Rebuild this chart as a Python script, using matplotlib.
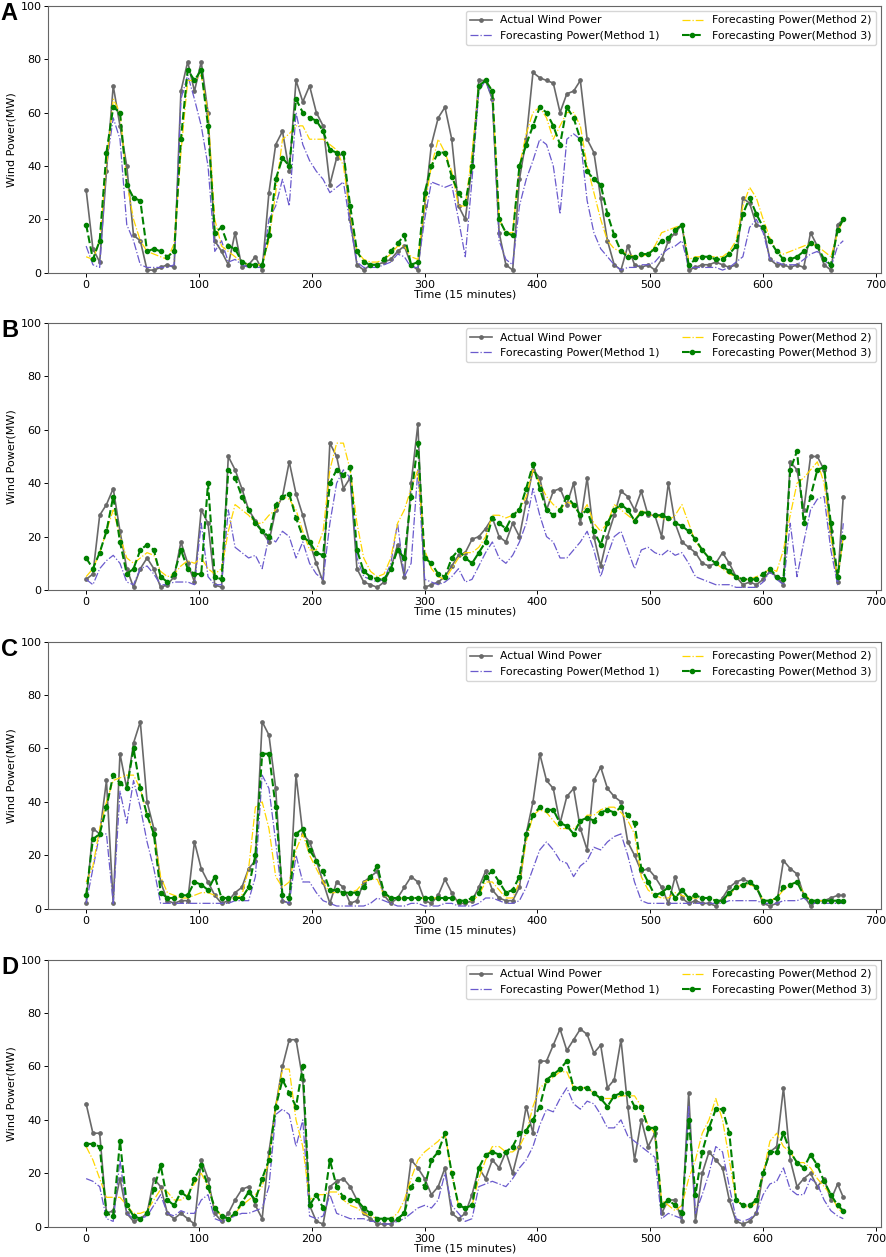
import numpy as np
import matplotlib
matplotlib.use("Agg")
import matplotlib.pyplot as plt

# time index (15 min steps), sampled every 6 steps plus the last point
t = list(range(0, 672, 6)) + [671]

# ---- panel A ----
a_actual = [31, 9, 4, 38, 70, 55, 40, 14, 12, 1,
            1, 2, 3, 2, 68, 79, 68, 79, 60, 12,
            8, 3, 15, 2, 3, 6, 1, 30, 48, 53,
            38, 72, 64, 70, 60, 55, 33, 43, 45, 20,
            3, 1, 3, 3, 4, 5, 8, 10, 3, 1,
            25, 48, 58, 62, 50, 25, 20, 40, 72, 72,
            65, 15, 3, 1, 35, 50, 75, 73, 72, 71,
            60, 67, 68, 72, 50, 45, 28, 12, 3, 1,
            10, 3, 2, 3, 1, 5, 12, 15, 18, 1,
            2, 3, 3, 4, 3, 2, 3, 28, 26, 18,
            17, 5, 3, 3, 2, 3, 2, 15, 10, 3,
            1, 18, 20]
a_m1 = [10, 3, 2, 40, 58, 50, 18, 12, 3, 2,
        2, 2, 2, 3, 65, 74, 65, 55, 40, 8,
        12, 4, 5, 3, 2, 2, 2, 20, 25, 35,
        25, 60, 48, 42, 38, 35, 30, 32, 34, 18,
        4, 2, 2, 2, 3, 4, 7, 6, 2, 2,
        20, 34, 33, 32, 33, 20, 6, 35, 68, 72,
        65, 12, 5, 3, 25, 35, 42, 50, 48, 40,
        22, 50, 52, 50, 27, 15, 9, 6, 3, 1,
        2, 2, 3, 3, 4, 7, 9, 10, 12, 2,
        2, 2, 2, 2, 1, 2, 4, 6, 17, 20,
        15, 5, 4, 3, 3, 3, 5, 7, 8, 5,
        2, 10, 12]
a_m2 = [6, 5, 12, 40, 65, 60, 34, 20, 12, 8,
        7, 6, 5, 11, 45, 72, 72, 74, 60, 20,
        10, 8, 6, 4, 3, 3, 3, 12, 30, 50,
        52, 55, 55, 50, 50, 50, 48, 46, 40, 22,
        8, 5, 4, 4, 5, 7, 10, 10, 6, 5,
        25, 40, 50, 45, 38, 25, 25, 45, 70, 72,
        68, 20, 15, 15, 40, 52, 60, 62, 58, 50,
        55, 60, 60, 55, 40, 30, 20, 12, 9, 8,
        7, 6, 6, 7, 10, 15, 16, 17, 18, 5,
        6, 6, 6, 6, 6, 8, 12, 25, 32, 28,
        20, 13, 8, 7, 8, 9, 10, 11, 10, 8,
        6, 15, 20]
a_m3 = [18, 5, 12, 45, 62, 60, 33, 28, 27, 8,
        9, 8, 6, 8, 50, 76, 72, 76, 55, 15,
        17, 10, 9, 4, 3, 3, 3, 14, 35, 43,
        40, 65, 60, 58, 57, 53, 46, 45, 45, 25,
        8, 4, 3, 3, 5, 8, 11, 14, 3, 4,
        30, 40, 45, 45, 36, 30, 26, 40, 70, 72,
        68, 20, 15, 14, 40, 48, 55, 62, 60, 55,
        48, 62, 58, 50, 38, 35, 33, 22, 14, 8,
        6, 6, 7, 7, 9, 12, 13, 16, 18, 3,
        5, 6, 6, 5, 5, 7, 10, 22, 28, 22,
        17, 12, 8, 5, 5, 6, 8, 11, 10, 5,
        3, 16, 20]

# ---- panel B ----
b_actual = [4, 6, 28, 32, 38, 22, 8, 1, 8, 12,
            8, 1, 2, 5, 18, 10, 3, 30, 25, 2,
            1, 50, 45, 38, 30, 26, 22, 18, 30, 35,
            48, 36, 28, 18, 10, 3, 55, 50, 38, 42,
            8, 3, 2, 1, 3, 8, 17, 5, 40, 62,
            1, 2, 3, 5, 9, 13, 14, 19, 20, 23,
            27, 20, 18, 25, 20, 33, 45, 42, 30, 37,
            38, 32, 40, 25, 42, 20, 9, 20, 28, 37,
            35, 30, 37, 28, 28, 20, 40, 25, 18, 16,
            14, 10, 9, 10, 14, 10, 5, 2, 3, 2,
            4, 7, 5, 2, 48, 45, 30, 50, 50, 45,
            22, 3, 35]
b_m1 = [4, 2, 8, 11, 13, 10, 3, 2, 8, 9,
        6, 2, 2, 3, 3, 3, 2, 25, 5, 2,
        2, 30, 16, 14, 12, 13, 8, 20, 18, 22,
        20, 12, 18, 10, 6, 4, 25, 40, 45, 42,
        12, 5, 4, 3, 4, 10, 25, 5, 10, 45,
        4, 3, 2, 3, 5, 8, 3, 4, 9, 14,
        18, 12, 10, 13, 18, 25, 38, 28, 20, 18,
        12, 12, 15, 18, 22, 15, 5, 13, 20, 22,
        15, 8, 15, 16, 14, 13, 15, 13, 14, 10,
        5, 4, 3, 2, 2, 2, 1, 1, 1, 1,
        3, 7, 4, 2, 25, 5, 18, 30, 34, 35,
        15, 2, 25]
b_m2 = [5, 8, 14, 22, 30, 20, 12, 10, 12, 14,
        13, 7, 5, 6, 9, 11, 10, 12, 8, 6,
        8, 22, 32, 30, 28, 25, 25, 28, 30, 35,
        34, 30, 22, 15, 15, 22, 45, 55, 55, 45,
        25, 12, 7, 5, 6, 12, 25, 30, 38, 45,
        15, 8, 5, 4, 8, 12, 14, 14, 16, 20,
        28, 28, 27, 28, 30, 35, 45, 40, 35, 32,
        30, 33, 32, 28, 32, 25, 22, 25, 32, 30,
        28, 26, 30, 28, 28, 27, 26, 28, 32, 25,
        18, 15, 12, 10, 8, 6, 5, 4, 4, 5,
        6, 8, 7, 15, 28, 40, 42, 45, 48, 40,
        20, 4, 20]
b_m3 = [12, 8, 14, 22, 35, 18, 6, 8, 15, 17,
        15, 5, 3, 6, 15, 8, 6, 6, 40, 5,
        4, 45, 42, 35, 30, 25, 22, 20, 32, 35,
        36, 27, 20, 18, 14, 13, 40, 45, 43, 46,
        15, 7, 5, 4, 4, 8, 15, 12, 35, 55,
        12, 10, 6, 5, 12, 15, 12, 10, 14, 18,
        27, 25, 23, 28, 30, 38, 47, 38, 30, 28,
        30, 35, 32, 28, 30, 22, 17, 25, 30, 32,
        30, 26, 29, 29, 28, 28, 27, 25, 24, 22,
        19, 15, 12, 10, 9, 7, 5, 4, 4, 4,
        6, 8, 5, 4, 45, 52, 25, 35, 45, 46,
        25, 5, 20]

# ---- panel C ----
c_actual = [2, 30, 28, 48, 2, 58, 45, 62, 70, 40,
            30, 10, 3, 2, 3, 3, 25, 15, 10, 5,
            2, 3, 6, 8, 15, 18, 70, 65, 45, 3,
            2, 50, 28, 25, 18, 10, 2, 10, 8, 2,
            3, 10, 12, 14, 5, 2, 4, 8, 12, 10,
            3, 2, 5, 11, 6, 2, 2, 3, 8, 14,
            7, 4, 3, 3, 8, 28, 40, 58, 48, 45,
            32, 42, 45, 30, 22, 48, 53, 45, 42, 40,
            25, 20, 14, 15, 12, 8, 2, 12, 4, 2,
            3, 2, 2, 1, 4, 8, 10, 11, 10, 8,
            2, 1, 2, 18, 15, 13, 5, 1, 3, 3,
            4, 5, 5]
c_m1 = [2, 15, 28, 28, 2, 44, 32, 48, 38, 25,
        15, 2, 2, 2, 2, 2, 2, 2, 2, 2,
        2, 2, 3, 3, 3, 12, 50, 45, 25, 3,
        2, 20, 10, 10, 6, 3, 2, 1, 1, 1,
        1, 1, 2, 4, 3, 2, 1, 1, 2, 2,
        1, 1, 1, 2, 2, 1, 1, 1, 2, 4,
        4, 3, 2, 2, 3, 8, 15, 22, 25, 22,
        18, 17, 12, 16, 18, 23, 22, 25, 27, 28,
        20, 10, 3, 2, 2, 2, 2, 2, 2, 2,
        2, 2, 2, 2, 2, 3, 3, 3, 3, 3,
        2, 2, 2, 3, 3, 3, 4, 2, 2, 2,
        2, 2, 2]
c_m2 = [10, 16, 30, 40, 48, 49, 50, 50, 45, 35,
        28, 12, 6, 5, 4, 4, 5, 6, 6, 5,
        4, 4, 4, 5, 15, 38, 40, 30, 12, 8,
        10, 22, 28, 20, 15, 10, 6, 6, 6, 6,
        7, 10, 11, 11, 5, 4, 4, 4, 4, 4,
        4, 4, 4, 4, 4, 3, 3, 3, 5, 10,
        10, 7, 4, 4, 10, 25, 35, 37, 36, 33,
        30, 30, 30, 32, 35, 35, 37, 38, 38, 36,
        33, 28, 12, 7, 5, 4, 4, 6, 5, 4,
        4, 4, 4, 3, 3, 5, 8, 9, 9, 8,
        3, 3, 4, 7, 9, 10, 6, 3, 3, 3,
        3, 3, 3]
c_m3 = [5, 26, 28, 38, 50, 47, 45, 60, 45, 35,
        28, 6, 4, 4, 5, 5, 10, 9, 7, 12,
        4, 4, 4, 4, 8, 20, 58, 58, 38, 5,
        4, 28, 30, 22, 18, 14, 7, 7, 6, 6,
        6, 8, 12, 16, 6, 4, 4, 4, 4, 4,
        4, 4, 4, 4, 4, 3, 3, 4, 6, 12,
        14, 10, 6, 7, 12, 28, 35, 38, 37, 37,
        32, 31, 28, 33, 34, 33, 36, 37, 36, 38,
        35, 32, 15, 10, 5, 6, 8, 4, 7, 4,
        5, 4, 4, 3, 3, 6, 8, 9, 10, 8,
        3, 3, 4, 8, 9, 10, 5, 3, 3, 3,
        3, 3, 3]

# ---- panel D ----
d_actual = [46, 35, 35, 5, 6, 18, 5, 2, 3, 5,
            18, 15, 5, 3, 5, 3, 1, 25, 18, 5,
            2, 5, 10, 14, 15, 8, 3, 28, 45, 60,
            70, 70, 55, 8, 2, 1, 15, 17, 18, 15,
            10, 5, 3, 1, 1, 1, 3, 5, 25, 22,
            18, 12, 15, 22, 5, 3, 5, 12, 22, 18,
            25, 22, 28, 20, 30, 45, 35, 62, 62, 68,
            74, 66, 70, 74, 72, 65, 68, 52, 55, 70,
            45, 25, 40, 30, 35, 5, 10, 10, 2, 50,
            2, 20, 28, 25, 22, 10, 2, 1, 2, 5,
            20, 28, 30, 52, 25, 15, 18, 20, 15, 18,
            10, 16, 11]
d_m1 = [18, 17, 15, 3, 2, 25, 5, 3, 3, 4,
        8, 12, 5, 4, 6, 5, 5, 10, 12, 3,
        2, 3, 4, 5, 5, 6, 7, 15, 42, 44,
        42, 30, 40, 4, 3, 4, 12, 5, 4, 3,
        3, 3, 2, 2, 1, 1, 2, 3, 5, 7,
        8, 7, 10, 20, 8, 5, 2, 3, 15, 16,
        17, 16, 15, 18, 22, 25, 30, 38, 44, 43,
        48, 52, 46, 44, 47, 46, 42, 37, 37, 40,
        34, 32, 30, 28, 26, 3, 5, 4, 3, 45,
        5, 12, 20, 30, 28, 15, 3, 2, 3, 5,
        12, 16, 17, 22, 14, 12, 12, 18, 16, 10,
        6, 4, 3]
d_m2 = [30, 25, 18, 11, 11, 11, 8, 5, 5, 6,
        10, 14, 13, 10, 10, 12, 16, 20, 15, 7,
        4, 3, 5, 8, 10, 12, 15, 25, 45, 59,
        59, 40, 30, 10, 12, 12, 13, 13, 10, 8,
        7, 5, 4, 3, 3, 3, 5, 10, 18, 25,
        28, 30, 32, 35, 20, 8, 7, 8, 18, 25,
        30, 30, 28, 28, 30, 35, 45, 52, 54, 56,
        58, 58, 52, 52, 52, 50, 48, 48, 48, 49,
        49, 49, 45, 38, 35, 10, 8, 6, 8, 18,
        25, 35, 40, 48, 40, 25, 10, 8, 7, 9,
        20, 32, 35, 30, 28, 24, 24, 22, 18, 15,
        12, 7, 5]
d_m3 = [31, 31, 30, 5, 4, 32, 8, 4, 3, 5,
        14, 23, 10, 8, 13, 11, 18, 23, 15, 7,
        4, 3, 5, 9, 13, 10, 18, 25, 45, 55,
        50, 45, 60, 8, 12, 7, 25, 15, 11, 10,
        10, 7, 5, 3, 3, 3, 3, 5, 15, 18,
        15, 25, 28, 35, 20, 8, 7, 8, 22, 27,
        28, 27, 28, 30, 35, 36, 40, 45, 55, 57,
        59, 62, 52, 52, 52, 50, 48, 45, 49, 50,
        50, 45, 45, 37, 37, 8, 10, 8, 5, 40,
        12, 28, 37, 44, 44, 35, 10, 8, 8, 10,
        20, 28, 28, 35, 28, 24, 22, 27, 23, 17,
        12, 8, 6]

panels = [
    ("A", a_actual, a_m1, a_m2, a_m3),
    ("B", b_actual, b_m1, b_m2, b_m3),
    ("C", c_actual, c_m1, c_m2, c_m3),
    ("D", d_actual, d_m1, d_m2, d_m3),
]

plt.rcParams["font.size"] = 8

# axes bottoms in figure fraction (top to bottom)
bottoms = [0.783, 0.5306, 0.2771, 0.0241]
ax_h = 0.2125
ax_left = 0.0545
ax_w = 0.940

fig = plt.figure(figsize=(8.86, 12.57), dpi=100)

for (letter, actual, m1, m2, m3), bot in zip(panels, bottoms):
    ax = fig.add_axes([ax_left, bot, ax_w, ax_h])
    ax.plot(t, actual, color="dimgray", linestyle="-", linewidth=1.2,
            marker="o", markersize=2.4, label="Actual Wind Power")
    ax.plot(t, m1, color="slateblue", linestyle="-.", linewidth=0.9,
            label="Forecasting Power(Method 1)")
    ax.plot(t, m2, color="gold", linestyle="-.", linewidth=0.9,
            label="Forecasting Power(Method 2)")
    ax.plot(t, m3, color="green", linestyle="--", linewidth=1.5,
            marker="o", markersize=3, label="Forecasting Power(Method 3)")
    ax.set_ylim(0, 100)
    ax.set_xticks(range(0, 701, 100))
    ax.tick_params(length=3, width=0.7, pad=2)
    ax.set_xlabel("Time (15 minutes)", labelpad=0)
    ax.set_ylabel("Wind Power(MW)", labelpad=3)
    ax.legend(loc="upper right", ncol=2, fontsize=7.8)
    for sp in ax.spines.values():
        sp.set_color("#666666")
    fig.text(0.001, bot + ax_h + 0.003, letter, fontsize=17,
             fontweight="bold", family="Liberation Sans",
             va="top", ha="left")

plt.savefig("out.png", dpi=100)
